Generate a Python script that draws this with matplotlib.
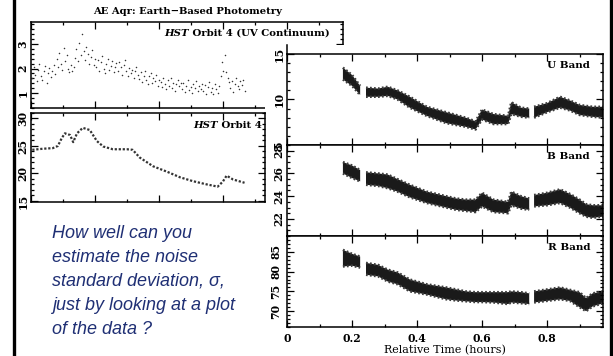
import numpy as np
import matplotlib.pyplot as plt
from matplotlib.patches import Rectangle
from matplotlib.lines import Line2D
from matplotlib.ticker import MultipleLocator

plt.rcParams['font.family'] = 'DejaVu Serif'
plt.rcParams['font.weight'] = 'bold'
plt.rcParams['font.size'] = 7.5

##### HST orbit 4, UV continuum (orbit units, 150 samples)
uv_t = np.linspace(0.02, 3.34, 150)
uv_flux = [
    1.62, 2.05, 1.75, 1.48, 1.95, 2.18, 1.70, 1.55, 1.88, 2.10, 1.42, 1.80, 2.02, 1.65, 1.90,
    2.15, 1.78, 2.40, 2.05, 2.62, 2.20, 1.95, 2.85, 2.30, 2.55, 2.00, 1.85, 2.15, 1.90, 2.08,
    2.45, 2.80, 2.30, 3.05, 2.55, 3.40, 2.70, 2.35, 2.90, 2.60, 2.20, 2.48, 2.75, 2.15, 2.40,
    2.05, 2.35, 1.90, 2.25, 2.50, 2.00, 1.82, 2.20, 2.40, 1.95, 2.12, 2.30, 1.85, 2.05, 2.22,
    1.92, 2.28, 2.05, 1.75, 2.15, 2.35, 1.88, 1.70, 2.02, 1.80, 1.95, 1.62, 1.88, 2.05, 1.72,
    1.58, 1.85, 1.45, 1.70, 1.92, 1.52, 1.35, 1.68, 1.80, 1.40, 1.62, 1.50, 1.75, 1.30, 1.55,
    1.45, 1.25, 1.60, 1.38, 1.15, 1.52, 1.30, 1.62, 1.20, 1.42, 1.10, 1.35, 1.55, 1.28, 1.40,
    1.18, 1.42, 1.05, 1.30, 1.55, 1.12, 1.25, 1.00, 1.38, 1.20, 1.48, 1.08, 1.28, 1.15, 1.35,
    1.10, 1.32, 0.98, 1.25, 1.45, 1.05, 1.20, 0.95, 1.35, 1.15, 1.02, 1.28, 1.70, 2.25, 1.90,
    2.55, 1.85, 1.60, 1.45, 1.22, 1.50, 1.05, 1.38, 1.60, 1.28, 1.15, 1.48, 1.32, 1.55, 1.10,
]

##### HST orbit 4 (optical)
orb_t = [0.02, 0.19, 0.34, 0.42, 0.48, 0.53, 0.61, 0.66, 0.72, 0.81, 0.92, 1.03, 1.13,
         1.28, 1.50, 1.59, 1.70, 1.91, 2.13, 2.33, 2.53, 2.75, 2.92, 3.00, 3.06, 3.16, 3.34]
orb_flux = [24.3, 24.5, 24.6, 25.0, 26.4, 27.3, 27.0, 25.7, 27.3, 28.3, 27.9, 25.9, 24.9,
            24.4, 24.4, 24.3, 22.9, 21.3, 20.3, 19.3, 18.6, 18.0, 17.6, 18.5, 19.6, 18.9, 18.3]

##### earth-based photometry: lower / upper edge of the data band (nan = gap)
nan = np.nan
band_t = [0.172, 0.20, 0.225, 0.234, 0.243, 0.28, 0.31, 0.34, 0.378, 0.43, 0.46, 0.49, 0.52,
          0.55, 0.58, 0.60, 0.635, 0.68, 0.69, 0.72, 0.745, 0.752, 0.76, 0.80, 0.84, 0.87,
          0.90, 0.92, 0.94, 0.972]
u_lo = [12.2, 11.5, 10.5, nan, 10.3, 10.3, 10.4, 10.0, 9.1, 8.2, 7.8, 7.4, 7.2, 7.0, 6.7,
        7.8, 7.3, 7.3, 8.4, 8.1, 8.0, nan, 8.0, 8.6, 9.1, 8.8, 8.3, 8.2, 8.1, 8.0]
u_hi = [13.5, 12.7, 11.5, nan, 11.3, 11.2, 11.4, 11.0, 10.3, 9.2, 8.9, 8.6, 8.3, 8.0, 7.6,
        8.9, 8.4, 8.2, 9.7, 9.1, 9.0, nan, 9.2, 9.6, 10.3, 9.9, 9.4, 9.3, 9.2, 9.2]
b_lo = [26.0, 25.6, 25.3, nan, 25.0, 24.9, 24.7, 24.4, 23.9, 23.4, 23.2, 23.0, 22.8, 22.7,
        22.6, 23.1, 22.6, 22.5, 23.2, 22.9, 22.8, nan, 23.1, 23.2, 23.4, 23.0, 22.5, 22.2,
        22.1, 22.2]
b_hi = [27.0, 26.7, 26.3, nan, 26.1, 26.0, 25.9, 25.5, 25.0, 24.4, 24.2, 24.0, 23.8, 23.7,
        23.7, 24.3, 23.7, 23.5, 24.4, 24.0, 23.8, nan, 24.1, 24.3, 24.6, 24.2, 23.7, 23.3,
        23.2, 23.2]
r_lo = [81.3, 81.5, 81.0, nan, 79.2, 78.8, 77.5, 76.8, 75.0, 74.2, 73.6, 73.0, 72.7, 72.5,
        72.3, 72.3, 72.2, 71.8, 72.2, 72.0, 71.8, nan, 72.2, 72.6, 73.0, 72.6, 71.0, 70.0,
        71.2, 72.0]
r_hi = [85.5, 84.5, 83.8, nan, 82.2, 81.7, 80.5, 79.8, 78.0, 76.8, 76.4, 76.0, 75.5, 75.0,
        74.8, 74.8, 74.8, 74.8, 75.0, 74.8, 74.5, nan, 75.0, 75.5, 76.0, 75.4, 74.8, 73.3,
        74.5, 75.0]

question = ["How well can you", "estimate the noise", "standard deviation, \u03c3,",
            "just by looking at a plot", "of the data ?"]

W, H = 613, 356
fig = plt.figure(figsize=(W / 100, H / 100), dpi=100)


def box(x0, y0, x1, y1):
    # pixel box -> figure fraction rect
    return [x0 / W, 1 - y1 / H, (x1 - x0) / W, (y1 - y0) / H]


def style(ax, ymaj, ymin, xmaj, xmin):
    for s in ax.spines.values():
        s.set_linewidth(1.1)
    ax.yaxis.set_major_locator(MultipleLocator(ymaj))
    ax.yaxis.set_minor_locator(MultipleLocator(ymin))
    ax.xaxis.set_major_locator(MultipleLocator(xmaj))
    ax.xaxis.set_minor_locator(MultipleLocator(xmin))
    ax.tick_params(which='both', direction='in', top=True, right=True, width=0.9,
                   labelsize=7.8, pad=2, labelbottom=False)
    ax.tick_params(which='major', length=5)
    ax.tick_params(which='minor', length=2.5)
    ax.tick_params(axis='y', labelrotation=90)
    for lab in ax.get_yticklabels():
        lab.set_va('center')


# left: HST panels
ax1 = fig.add_axes(box(31, 22, 343, 108))
ax1.plot(uv_t, uv_flux, ls='none', marker='o', ms=1.1, mec='none', mfc='#333333')
ax1.set_xlim(0, 4.875)
ax1.set_ylim(0.39, 3.9)
style(ax1, 1, 0.2, 1, 0.5)
t1 = ax1.text(0.958, 0.872, ' Orbit 4 (UV Continuum)', transform=ax1.transAxes,
              ha='right', va='center', fontsize=7.3)
ax1.annotate('HST', xy=(0, 0.5), xycoords=t1, ha='right', va='center',
             style='italic', fontsize=7.3)
ax1.set_zorder(0)

fig.add_artist(Rectangle((265 / W, 0), (609 - 265) / W, 1 - 45 / H,
                         transform=fig.transFigure, fc='white', ec='none', zorder=1))

ax2 = fig.add_axes(box(31, 113, 265, 202))
ax2.plot(orb_t, orb_flux, ls=(0, (1, 0.8)), lw=1.6, color='#333333')
ax2.set_xlim(0, 3.66)
ax2.set_ylim(14.8, 31.0)
style(ax2, 5, 1, 1, 0.5)
t2 = ax2.text(0.987, 0.865, ' Orbit 4', transform=ax2.transAxes,
              ha='right', va='center', fontsize=7.3)
ax2.annotate('HST', xy=(0, 0.5), xycoords=t2, ha='right', va='center',
             style='italic', fontsize=7.3)
ax2.set_zorder(2)

# right: U, B, R bands
panels = [
    (54, 145, u_lo, u_hi, (5, 15), 5, 1, 'U Band'),
    (145, 236, b_lo, b_hi, (20.5, 28.5), 2, 0.5, 'B Band'),
    (236, 327, r_lo, r_hi, (66, 89), 5, 1, 'R Band'),
]
for top, bot, lo, hi, ylim, ymaj, ymin, name in panels:
    ax = fig.add_axes(box(287, top, 603, bot))
    ax.fill_between(band_t, lo, hi, color='#1a1a1a', lw=0)
    # ragged, stippled band edges
    for edge in (lo, hi):
        ax.plot(band_t, edge, ls=(0, (0.7, 0.9)), lw=1.8, color='#3c3c3c')
    ax.set_xlim(0, 0.972)
    ax.set_ylim(*ylim)
    style(ax, ymaj, ymin, 0.2, 0.1)
    ax.text(0.959, 0.875, name, transform=ax.transAxes, ha='right', va='center',
            fontsize=7.5)
    ax.set_zorder(3)

ax.tick_params(labelbottom=True, pad=4)
ax.set_xticks([0, 0.2, 0.4, 0.6, 0.8])
ax.set_xticklabels(['0', '0.2', '0.4', '0.6', '0.8'])
ax.set_xlabel('Relative Time (hours)', fontsize=8, labelpad=1)

fig.add_artist(Line2D([287 / W, 287 / W], [1 - 45 / H, 1 - 54 / H],
                      transform=fig.transFigure, color='black', lw=1.1, zorder=4))

fig.text(188 / W, 1 - 12 / H, 'AE Aqr: Earth\u2212Based Photometry',
         ha='center', va='center', fontsize=7.2)

for i, line in enumerate(question):
    fig.text(52 / W, 1 - (233 + 24 * i) / H, line, ha='left', va='center',
             family='Liberation Sans', style='italic', weight='normal',
             fontsize=13, color='#1f2f74')

# slide frame
for xf in (13.5, 610.5):
    fig.add_artist(Line2D([xf / W, xf / W], [0, 1], transform=fig.transFigure,
                          color='black', lw=2.4, zorder=5))

fig.savefig('out.png', dpi=100)
